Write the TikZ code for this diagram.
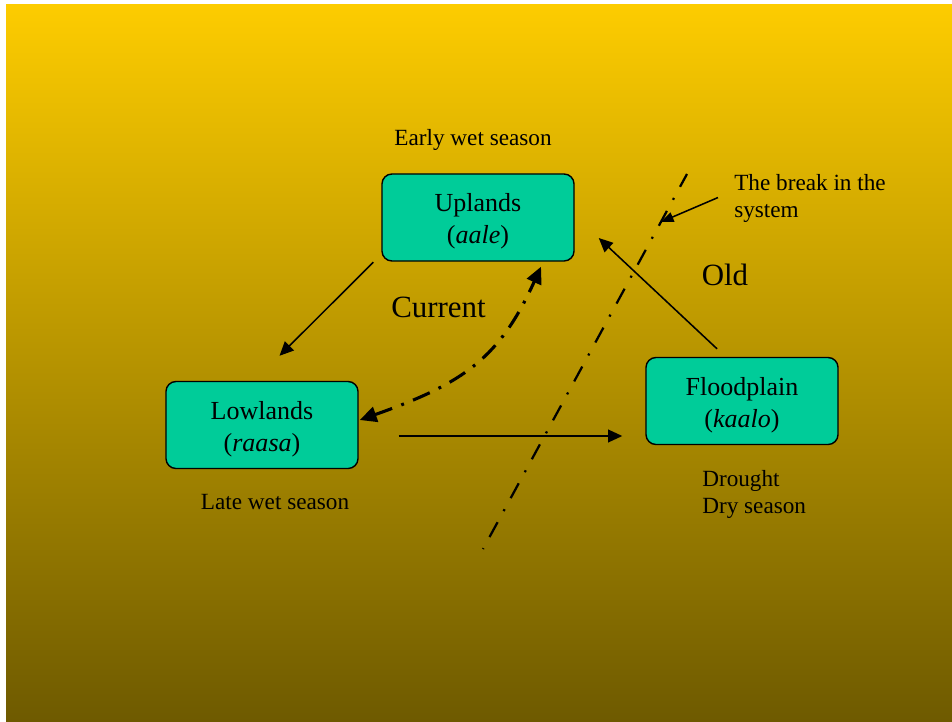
\documentclass[tikz,border=0pt]{standalone}
\usepackage{fontspec}
\setmainfont{Liberation Serif}
\usetikzlibrary{arrows.meta,calc}

\definecolor{verdecaja}{RGB}{0,204,153}
\definecolor{amarillo}{RGB}{253,204,0}
\definecolor{oliva}{RGB}{110,90,0}

\tikzset{
  caja/.style={draw, fill=verdecaja, line width=1pt, rounded corners=0.25cm,
    minimum width=4.8cm, minimum height=2.175cm, align=center,
    font=\fontsize{18.5}{22.5}\selectfont, text height=41pt},
  etiqueta/.style={inner sep=0pt, font=\fontsize{16.5}{19.5}\selectfont},
  grande/.style={inner sep=0pt, font=\fontsize{22}{26}\selectfont},
  flecha/.style={line width=1.1pt, -{Triangle[length=10pt,width=9pt]}},
  flechita/.style={line width=1.1pt, -{Triangle[length=9pt,width=7pt]}},
  corriente/.style={line width=2.2pt, dash pattern=on 13pt off 7pt on 2pt off 7pt,
    {Triangle[length=12pt,width=11pt]}-{Triangle[length=12pt,width=11pt]}},
  ruptura/.style={line width=1.6pt, dash pattern=on 12pt off 9pt on 1.5pt off 9pt,
    dash phase=1.6pt}
}

\begin{document}
\begin{tikzpicture}[x=0.025cm,y=-0.025cm] %Ciclo de uso de la tierra
        \fill[white] (0,0) rectangle (952,722);
        \shade[top color=amarillo, bottom color=oliva] (6,5) rectangle (952,722);

        \node[caja] (U) at (478,217.5) {Uplands\\(\textit{aale})};
        \node[caja] (L) at (262,425) {Lowlands\\(\textit{raasa})};
        \node[caja] (F) at (742,401) {Floodplain\\(\textit{kaalo})};

        \node[etiqueta, anchor=base] (E) at (473,146) {Early wet season};
        \node[etiqueta, anchor=base] (W) at (275,509) {Late wet season};
        \node[etiqueta, anchor=north west, align=left] (D) at (702,470) {Drought\\Dry season};
        \node[etiqueta, anchor=north west, align=left] (T) at (734,174) {The break in the\\system};
        \node[grande, anchor=base] (C) at (438.5,317) {Current};
        \node[grande, anchor=base] (O) at (725,285) {Old};

        \coordinate (B1) at (687,174);
        \coordinate (B2) at (483,549);

        \draw[flecha] ($(U.south west)+(-8,0.5)$) -- ($(L.north)+(17.5,-25)$);
        \draw[flecha] ($(L.east)+(40,11)$) -- ($(F.west)+(-23,35)$);
        \draw[flecha] ($(F.north)+(-25,-8)$) -- ($(U.east)+(24,20.5)$);

        \draw[corriente] ($(L.east)+(1,-5)$) .. controls (465,383) and (500,357) .. ($(U.south)+(63,5)$);

        \draw[ruptura] (B1) -- (B2);
        \draw[flechita] ($(T.west)+(-16,-1)$) -- ($(B1)!0.128!(B2)$);
    \end{tikzpicture}
\end{document}
